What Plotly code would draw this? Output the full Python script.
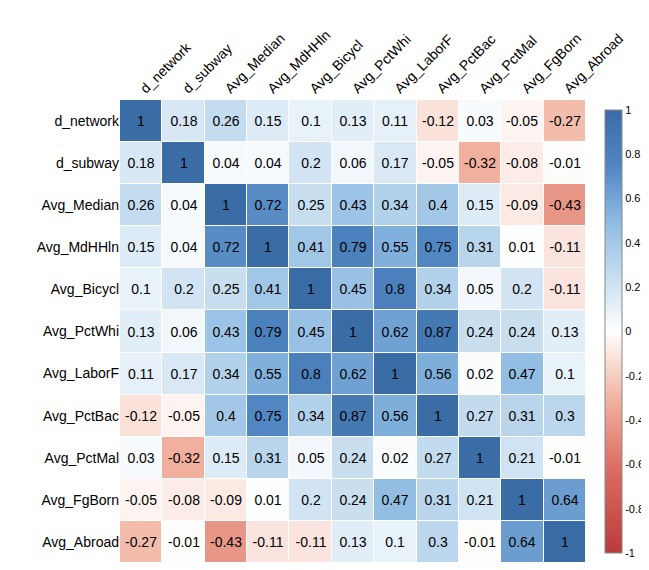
import plotly.graph_objects as go

labels = ["d_network", "d_subway", "Avg_Median", "Avg_MdHHln", "Avg_Bicycl", "Avg_PctWhi",
          "Avg_LaborF", "Avg_PctBac", "Avg_PctMal", "Avg_FgBorn", "Avg_Abroad"]

corr = [
    [1, 0.18, 0.26, 0.15, 0.1, 0.13, 0.11, -0.12, 0.03, -0.05, -0.27],
    [0.18, 1, 0.04, 0.04, 0.2, 0.06, 0.17, -0.05, -0.32, -0.08, -0.01],
    [0.26, 0.04, 1, 0.72, 0.25, 0.43, 0.34, 0.4, 0.15, -0.09, -0.43],
    [0.15, 0.04, 0.72, 1, 0.41, 0.79, 0.55, 0.75, 0.31, 0.01, -0.11],
    [0.1, 0.2, 0.25, 0.41, 1, 0.45, 0.8, 0.34, 0.05, 0.2, -0.11],
    [0.13, 0.06, 0.43, 0.79, 0.45, 1, 0.62, 0.87, 0.24, 0.24, 0.13],
    [0.11, 0.17, 0.34, 0.55, 0.8, 0.62, 1, 0.56, 0.02, 0.47, 0.1],
    [-0.12, -0.05, 0.4, 0.75, 0.34, 0.87, 0.56, 1, 0.27, 0.31, 0.3],
    [0.03, -0.32, 0.15, 0.31, 0.05, 0.24, 0.02, 0.27, 1, 0.21, -0.01],
    [-0.05, -0.08, -0.09, 0.01, 0.2, 0.24, 0.47, 0.31, 0.21, 1, 0.64],
    [-0.27, -0.01, -0.43, -0.11, -0.11, 0.13, 0.1, 0.3, -0.01, 0.64, 1],
]

cbar_ticks = [-1, -0.8, -0.6, -0.4, -0.2, 0, 0.2, 0.4, 0.6, 0.8, 1]
cbar_labels = ["-1", "-0.8", "-0.6", "-0.4", "-0.2", "0", "0.2", "0.4", "0.6", "0.8", "1"]

colorscale = [
    [0.0, "#BB3A3C"], [0.2, "#DC7064"], [0.35, "#F2B4A2"], [0.5, "#FFFFFF"],
    [0.62, "#C9DFF0"], [0.75, "#8CBAE2"], [0.88, "#4E84C0"], [1.0, "#3A6DA6"],
]

fig = go.Figure(go.Heatmap(
    z=corr, x=labels, y=labels, zmin=-1, zmax=1,
    colorscale=colorscale, xgap=1, ygap=1,
    text=corr, texttemplate="%{text}",
    textfont=dict(size=14, color="black", family="Liberation Sans, Arial"),
    colorbar=dict(
        x=1.02, xanchor="left", y=0.5, len=1, lenmode="fraction",
        thickness=17, outlinewidth=1, outlinecolor="#888",
        tickvals=cbar_ticks, ticktext=cbar_labels,
        ticks="", tickfont=dict(size=11, color="black"),
    ),
))

fig.update_layout(
    width=649, height=570,
    margin=dict(l=112, r=71, t=92, b=15, autoexpand=False),
    plot_bgcolor="white", paper_bgcolor="white",
    font=dict(family="Liberation Sans, Arial", color="black", size=14),
    xaxis=dict(side="top", tickangle=-45, showgrid=False, zeroline=False, ticks="",
               automargin=False),
    yaxis=dict(autorange="reversed", showgrid=False, zeroline=False, ticks="",
               automargin=False),
)

fig.write_html("out.html")
